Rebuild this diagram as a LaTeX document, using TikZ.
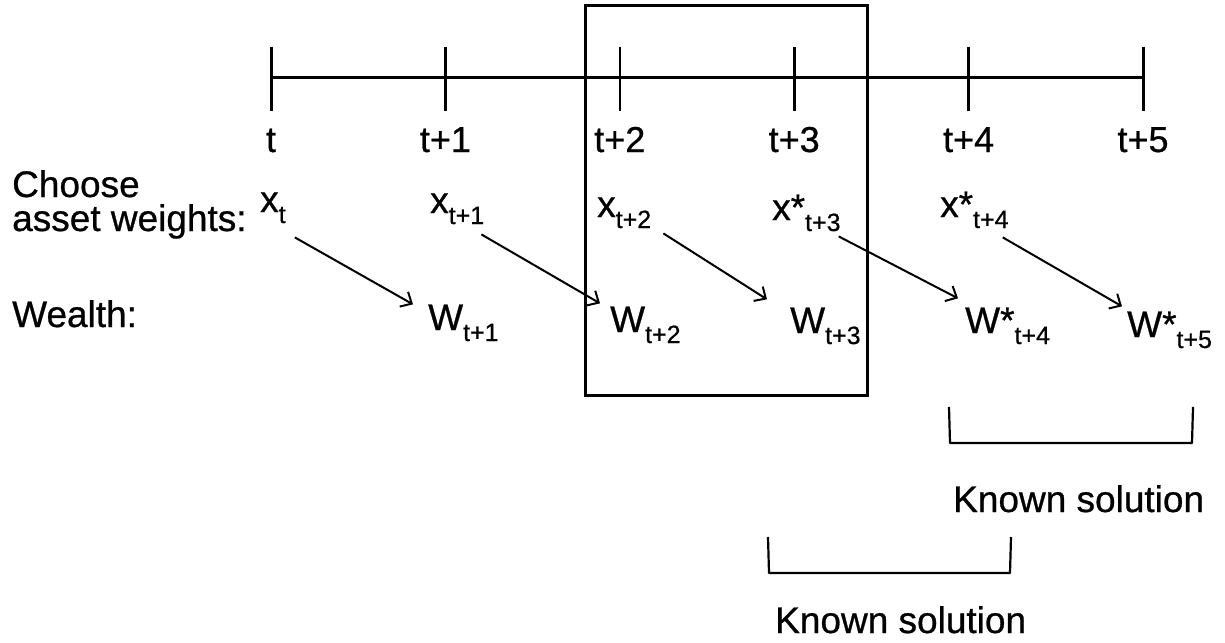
\documentclass[tikz,border=0pt]{standalone}
\usepackage{fontspec}
\setmainfont{Liberation Sans}[FakeBold=0.7]
\usetikzlibrary{arrows.meta}
\newcommand{\sbs}[1]{\raisebox{-11pt}{\fontsize{25}{25}\selectfont #1}}
\begin{document}
\begin{tikzpicture}[x=1pt,y=-1pt,
  lbl/.style={inner sep=0pt, font=\fontsize{37}{37}\selectfont, anchor=base west},
  tlbl/.style={inner sep=0pt, font=\fontsize{36}{36}\selectfont, anchor=base},
  arr/.style={line width=2pt, -{Straight Barb[length=9pt,width=17pt,line width=2pt]}},
  axis/.style={line width=3pt},
  tick/.style={line width=3pt},
  bracket/.style={line width=2.2pt, line join=round}]
\useasboundingbox (0,0) rectangle (1225,642);
% timeline
\draw[axis] (271,77) -- (1143,77);
\foreach \i/\xx/\lab/\w in {0/271/t/3,1/445.4/t+1/3,2/619.8/t+2/2,3/794.2/t+3/3,4/968.6/t+4/3,5/1143/t+5/3}{
  \draw[tick, line width=\w pt] (\xx,47) -- (\xx,111);
  \node[tlbl] (T\i) at (\xx,152) {\lab};
}
% box
\draw[line width=3pt] (585,6) rectangle (867,395);
% left labels
\node[lbl] (choose) at (12,197) {Choose};
\node[lbl] (asset) at (12,231) {asset weights:};
\node[lbl] (wealth) at (12,327) {Wealth:};
% decisions
\node[lbl] (x0) at (260,212) {x\sbs{t}};
\node[lbl] (x1) at (430,213) {x\sbs{t+1}};
\node[lbl] (x2) at (597,217) {x\sbs{t+2}};
\node[lbl] (x3) at (772,220) {x*\sbs{t+3}};
\node[lbl] (x4) at (940,217) {x*\sbs{t+4}};
% wealth
\node[lbl] (W1) at (428,330) {W\sbs{t+1}};
\node[lbl] (W2) at (610,332) {W\sbs{t+2}};
\node[lbl] (W3) at (790,333) {W\sbs{t+3}};
\node[lbl] (W4) at (965,333) {W*\sbs{t+4}};
\node[lbl] (W5) at (1127,337) {W*\sbs{t+5}};
% arrows
\draw[arr] ([shift={(9,14)}]x0.south east) -- ([shift={(-15,0)}]W1.north west);
\draw[arr] ([shift={(-3,10)}]x1.south east) -- ([shift={(-10,-3)}]W2.north west);
\draw[arr] ([shift={(12,5)}]x2.south east) -- ([shift={(-23,-8)}]W3.north west);
\draw[arr] ([shift={(-2,5)}]x3.south east) -- ([shift={(-7,-9)}]W4.north west);
\draw[arr] ([shift={(-6,9)}]x4.south east) -- ([shift={(-5,-5)}]W5.north west);
% brackets
\draw[bracket] (949,407) -- (950,443) -- (1192,443) -- (1193,407);
\node[lbl] (ks1) at (953,512) {Known solution};
\draw[bracket] (768,537) -- (769,573) -- (1010,573) -- (1011,537);
\node[lbl] (ks2) at (775,633) {Known solution};
\end{tikzpicture}
\end{document}
